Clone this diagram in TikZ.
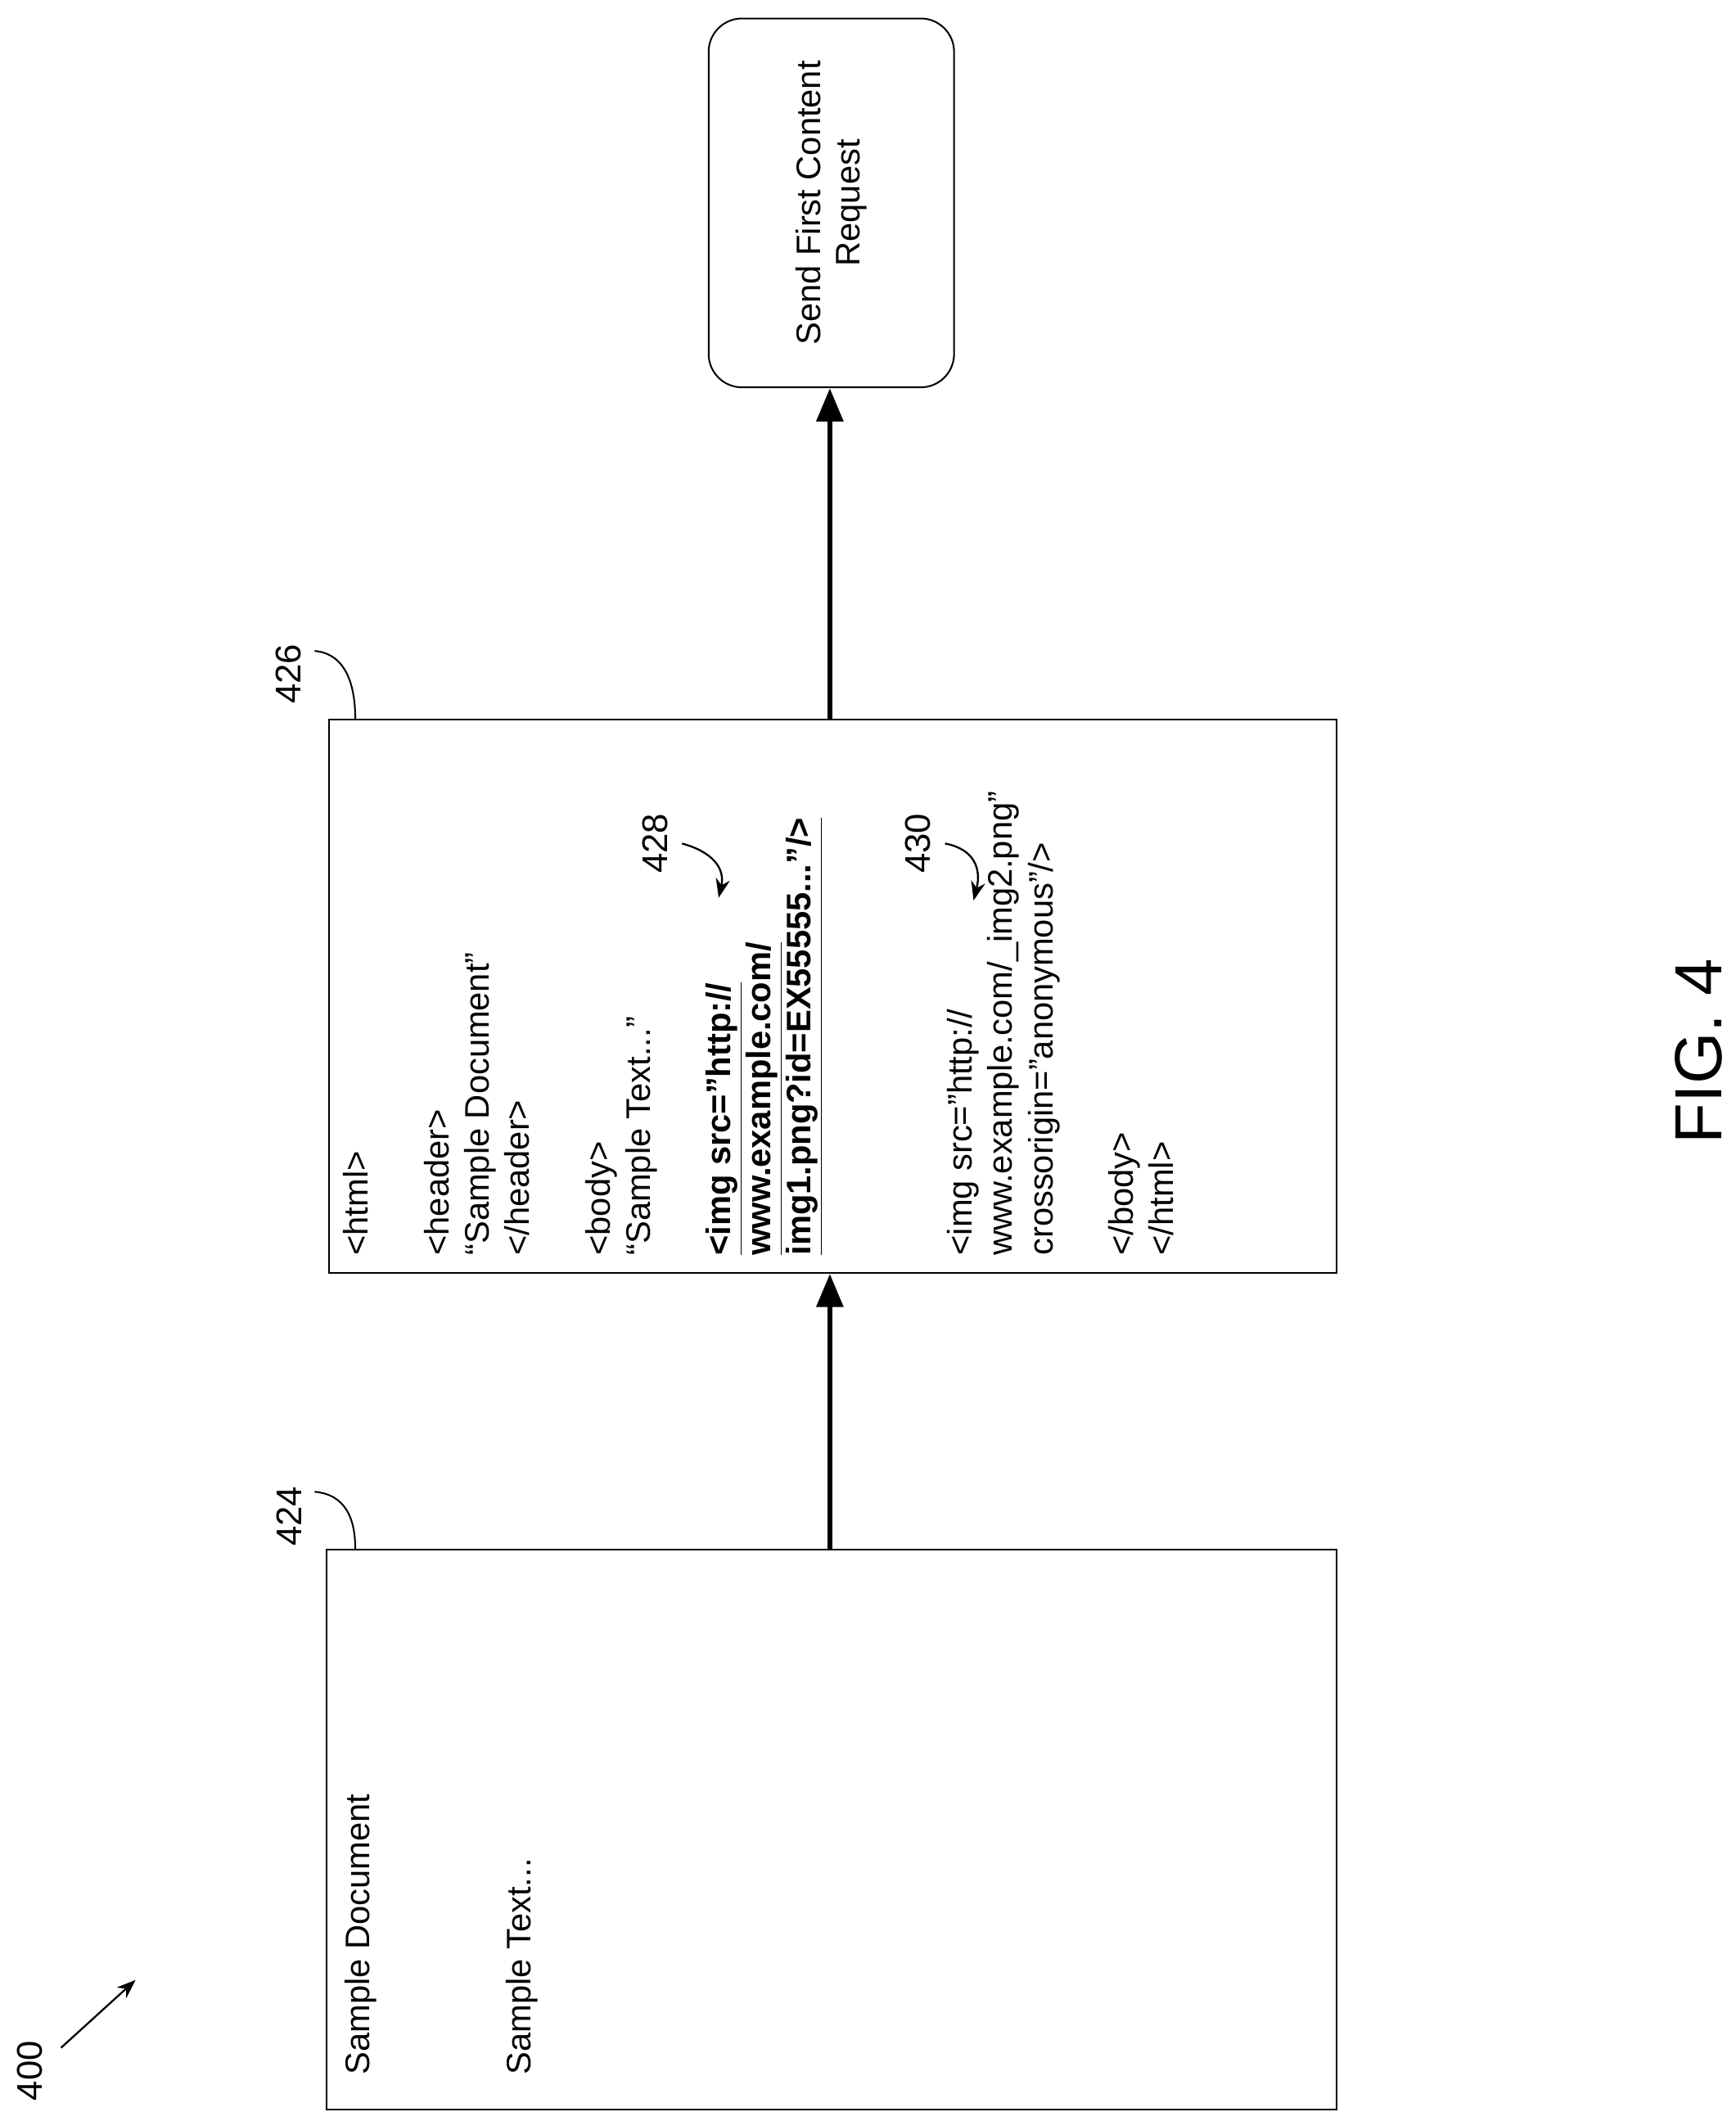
\documentclass[tikz,border=0pt]{standalone}
\usepackage{fontspec}
\setmainfont{Liberation Sans}
\usetikzlibrary{arrows.meta,positioning}

\tikzset{
  docbox/.style={draw,line width=0.7pt},
  code/.style={rotate=90,anchor=north west,align=left,inner sep=0pt,
    font=\fontsize{14.3}{16.9}\selectfont},
  refnum/.style={rotate=90,font=\fontsize{15}{18}\selectfont,inner sep=1pt},
  flow/.style={line width=2.2pt,-{Triangle[length=14pt,width=11pt]}},
  leader/.style={line width=0.7pt},
  callout/.style={line width=0.8pt,-{Stealth[length=8pt,width=6pt]}}
}
\newcommand{\hot}[1]{\textbf{\underline{#1}}}

\begin{document}
\begin{tikzpicture}[x=0.02cm,y=-0.02cm]
\useasboundingbox (0,0) rectangle (1280,1564);

% boxes
\node[docbox,minimum width=745*0.02cm,minimum height=413*0.02cm,anchor=north west] (doc) at (240,1142) {};
\node[docbox,minimum width=743*0.02cm,minimum height=408*0.02cm,anchor=north west] (html) at (242,530) {};
\node[draw,line width=0.7pt,rounded corners=14pt,minimum width=181*0.02cm,
  minimum height=272*0.02cm,anchor=north west] (send) at (522,13) {};
\node[rotate=90,align=center,font=\fontsize{14.3}{16.8}\selectfont] at (send.center)
  {Send First Content\\Request};

% texts
\node[code] (doctext) at (254,1530) {Sample Document\\~\\~\\~\\Sample Text...};
\node[code] (htmltext) at (253,926) {%
  <html>\\~\\<header>\\``Sample Document''\\</header>\\~\\<body>\\``Sample Text...''\\~\\
  \hot{<img src="http://}\\\hot{www.example.com/}\\\hot{img1.png?id=EX55555...''/>}\\~\\~\\~\\
  <img src="http://\\www.example.com/\_img2.png''\\crossorigin="anonymous''/>\\~\\
  </body>\\</html>};

% connectors
\draw[flow] (doc.north -| 612,0) -- (html.south -| 612,0);
\draw[flow] (html.north -| 612,0) -- (send.south -| 612,0);

% reference numerals
\node[refnum] (n424) at (213,1118) {424};
\draw[leader] (232,1100) .. controls (255,1102) and (262,1120) .. (262,1142);
\node[refnum] (n426) at (213,497) {426};
\draw[leader] (232,480) .. controls (255,482) and (262,505) .. (262,530);
\node[refnum] (n428) at (483,622) {428};
\draw[callout] (503,622) .. controls (525,628) and (535,640) .. (530,662);
\node[refnum] (n430) at (677,622) {430};
\draw[callout] (697,622) .. controls (718,626) and (724,640) .. (718,664);
\node[refnum] (n400) at (22,1527) {400};
\coordinate (p400) at (100,1460);
\draw[callout] (45,1510) -- (p400);

\node[rotate=90,font=\fontsize{28}{32}\selectfont] (fig) at (1253,775) {FIG. 4};
\end{tikzpicture}
\end{document}
